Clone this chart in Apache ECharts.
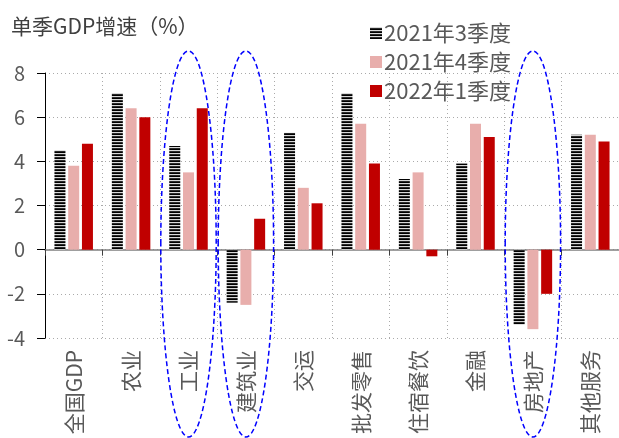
<!DOCTYPE html>
<html>
<head>
<meta charset="utf-8">
<script src="https://cdn.jsdelivr.net/npm/echarts@6/dist/echarts.min.js"></script>
<style>
  html, body { margin: 0; padding: 0; background: #fff; }
  #chart { width: 619px; height: 438px; }
</style>
</head>
<body>
<div id="chart"></div>
<script>
const categories = ['全国GDP', '农业', '工业', '建筑业', '交运', '批发零售', '住宿餐饮', '金融', '房地产', '其他服务']
const q3_2021 = [4.5, 7.1, 4.7, -2.4, 5.3, 7.1, 3.2, 3.9, -3.4, 5.2]
const q4_2021 = [3.8, 6.4, 3.5, -2.5, 2.8, 5.7, 3.5, 5.7, -3.6, 5.2]
const q1_2022 = [4.8, 6.0, 6.4, 1.4, 2.1, 3.9, -0.3, 5.1, -2.0, 4.9]
const seriesNames = ['2021年3季度', '2021年4季度', '2022年1季度']
const circled = ['工业', '建筑业', '房地产']

const font = '"Noto Sans CJK SC", "Noto Sans", sans-serif'
const grey = '#595959'

// 横条纹填充
function stripes () {
  const c = document.createElement('canvas')
  c.width = 4
  c.height = 3
  const ctx = c.getContext('2d')
  ctx.fillStyle = '#d8d8d8'
  ctx.fillRect(0, 0, 4, 1)
  ctx.fillStyle = '#2a2a2a'
  ctx.fillRect(0, 1, 4, 1)
  ctx.fillStyle = '#000'
  ctx.fillRect(0, 2, 4, 1)
  return { image: c, repeat: 'repeat' }
}

const dom = echarts.init(document.getElementById('chart'))

const option = {
  animation: false,
  title: {
    text: '单季GDP增速（%）',
    left: 11,
    top: 16,
    padding: 0,
    textStyle: { fontFamily: font, fontSize: 21, fontWeight: 'normal', color: '#404040' }
  },
  legend: {
    orient: 'vertical',
    left: 370,
    top: 22,
    padding: 0,
    itemWidth: 12,
    itemHeight: 12,
    itemGap: 7,
    icon: 'rect',
    data: seriesNames,
    textStyle: { fontFamily: font, fontSize: 22, color: grey, padding: [0, 0, 0, -3] }
  },
  grid: {
    left: 45,
    right: -9,
    top: 73,
    bottom: 100
  },
  xAxis: [
    {
      type: 'category',
      data: categories,
      axisLine: { show: false, onZero: false },
      axisTick: { show: false },
      axisLabel: {
        rotate: 90,
        margin: 12,
        interval: 0,
        fontFamily: font,
        fontSize: 21,
        color: grey
      },
      splitLine: {
        show: true,
        interval: 0,
        lineStyle: { color: '#aaa', type: [1, 3], width: 1 }
      }
    },
    {
      type: 'category',
      data: categories,
      position: 'bottom',
      axisLine: { show: true, onZero: true, onZeroAxisIndex: 0, lineStyle: { color: '#808080', width: 1.5 } },
      axisTick: { show: true, interval: 0, length: 6, lineStyle: { color: '#404040' } },
      axisLabel: { show: false },
      splitLine: { show: false }
    }
  ],
  yAxis: {
    type: 'value',
    min: -4,
    max: 8,
    interval: 2,
    axisLine: { show: true, lineStyle: { color: '#000', width: 1 } },
    axisTick: { show: true, length: 8, lineStyle: { color: '#000' } },
    axisLabel: { margin: 20, fontFamily: font, fontSize: 20, color: grey },
    splitLine: { show: true, lineStyle: { color: '#aaa', type: [1, 3], width: 1 } }
  },
  series: [
    {
      name: seriesNames[0],
      type: 'bar',
      barWidth: 11,
      barGap: '25%',
      itemStyle: { color: stripes() },
      data: q3_2021
    },
    {
      name: seriesNames[1],
      type: 'bar',
      barWidth: 11,
      barGap: '25%',
      itemStyle: { color: '#e8aeac' },
      data: q4_2021
    },
    {
      name: seriesNames[2],
      type: 'bar',
      barWidth: 11,
      barGap: '25%',
      itemStyle: { color: '#c00000' },
      data: q1_2022
    }
  ]
}

dom.setOption(option)

// 虚线椭圆圈出重点行业
const step = dom.convertToPixel({ xAxisIndex: 0 }, categories[1]) - dom.convertToPixel({ xAxisIndex: 0 }, categories[0])
const topY = dom.convertToPixel({ yAxisIndex: 0 }, 8) - 22
const bottomY = 437
dom.setOption({
  graphic: circled.map(function (name) {
    return {
      type: 'ellipse',
      silent: true,
      z: 100,
      shape: {
        cx: dom.convertToPixel({ xAxisIndex: 0 }, name),
        cy: (topY + bottomY) / 2,
        rx: step / 2 - 1,
        ry: (bottomY - topY) / 2
      },
      style: { fill: null, stroke: '#0000ff', lineWidth: 1.5, lineDash: [5, 3] }
    }
  })
})
</script>
</body>
</html>
